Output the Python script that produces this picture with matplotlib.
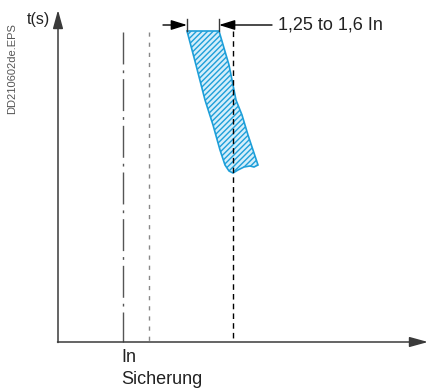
import numpy as np
import matplotlib.pyplot as plt
import matplotlib
from matplotlib.patches import Polygon

matplotlib.rc('font', family=['Liberation Sans', 'DejaVu Sans'])

# chart coordinates (pixel-like units, y grows downwards)
origin = (58, 342)
x_end = 428
y_end = 10
in_fuse = 123          # In Sicherung
in_low = 149           # lower limit (grey dashed)
in_high = 233          # upper limit (black dashed)
band_top = 31

# tripping band outline
band_left_x = [187, 196, 205, 213, 220, 225, 229, 233]
band_left_y = [31, 65, 100, 125, 150, 165, 171, 173]
band_bottom_x = [238, 244, 250, 254, 258]
band_bottom_y = [170, 167, 166, 167, 165]
band_right_x = [248, 242, 236, 229, 219]
band_right_y = [135, 115, 100, 65, 31]

dim_left = 187
dim_right = 219
dim_y = 25
dim_label = "1,25 to 1,6 In"

fig = plt.figure(figsize=(4.3, 3.89), dpi=100)
ax = fig.add_axes([0, 0, 1, 1])
ax.set_xlim(0, 430)
ax.set_ylim(389, 0)
ax.axis('off')

axc = '#3a3a3a'
big = '-|>,head_length=0.8,head_width=0.22'
ax.annotate('', xy=(x_end, origin[1]), xytext=(origin[0] - 0.5, origin[1]),
            arrowprops=dict(arrowstyle=big, color=axc, lw=1.1, mutation_scale=14, shrinkA=0, shrinkB=0))
ax.annotate('', xy=(origin[0], y_end), xytext=(origin[0], origin[1] + 0.5),
            arrowprops=dict(arrowstyle=big, color=axc, lw=1.1, mutation_scale=14, shrinkA=0, shrinkB=0))

ax.plot([in_fuse, in_fuse], [32, origin[1]], color='#555555', lw=1.0, dashes=(23, 4.3, 2, 4.3))
ax.plot([in_low, in_low], [32, origin[1]], color='#888888', lw=1.0, dashes=(3, 4.3))
ax.plot([in_high, in_high], [band_top, origin[1]], color='black', lw=1.0, dashes=(4, 3))

xs = band_left_x + band_bottom_x + band_right_x
ys = band_left_y + band_bottom_y + band_right_y
matplotlib.rcParams['hatch.linewidth'] = 1.0
band = Polygon(np.column_stack([xs, ys]), closed=True, facecolor='#d4eefa',
               edgecolor='#1e9fd9', hatch='//////', lw=1.2)
ax.add_patch(band)

# dimension arrows
small = '-|>,head_length=0.8,head_width=0.25'
for x in (dim_left, dim_right):
    ax.plot([x, x], [19, band_top], color=axc, lw=1.0)
ax.annotate('', xy=(dim_left, dim_y), xytext=(163, dim_y),
            arrowprops=dict(arrowstyle=small, color='black', lw=1.0, mutation_scale=12, shrinkA=0, shrinkB=0))
ax.annotate('', xy=(dim_right, dim_y), xytext=(272, dim_y),
            arrowprops=dict(arrowstyle=small, color='black', lw=1.0, mutation_scale=12, shrinkA=0, shrinkB=0))
ax.text(278, dim_y, dim_label, fontsize=13, va='center', ha='left', color='#222222')

ax.text(50, 19, 't(s)', fontsize=11.5, ha='right', va='center', color='#222222')
ax.text(in_fuse - 2, 358, 'In', fontsize=13, ha='left', va='center', color='#222222')
ax.text(in_fuse - 2, 380, 'Sicherung', fontsize=13, ha='left', va='center', color='#222222')
ax.text(12, 69, 'DD210602de.EPS', fontsize=8, rotation=90, ha='center', va='center', color='#555555')

fig.savefig('out.png', dpi=100)
